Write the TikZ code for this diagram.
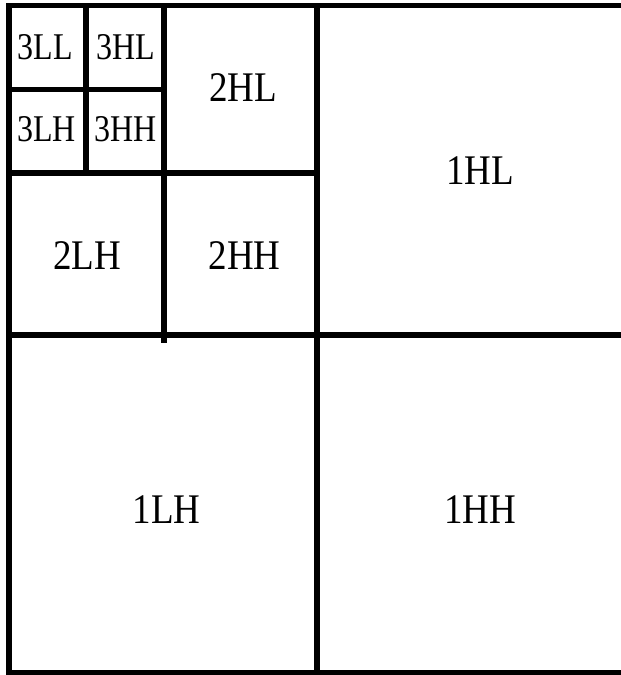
\documentclass[tikz,border=0pt]{standalone}
\usepackage{fontspec}
\usepackage{graphicx}
\setmainfont{Liberation Serif}
\usetikzlibrary{positioning}

\newcommand{\tall}[2]{\scalebox{1}[#1]{#2}}

\begin{document}
\begin{tikzpicture}[
  x=1pt, y=-1pt,
  grid/.style={line width=5.5pt, line cap=rect},
  band/.style={font=\fontsize{37}{40}\selectfont, inner sep=0pt},
  subband/.style={font=\fontsize{32}{34}\selectfont, inner sep=0pt},
]
  \useasboundingbox (0,0) rectangle (621,675);
  \clip (0,0) rectangle (621,675);

  % outer frame and first level
  \draw[grid] (9,5.5) -- (640,5.5);
  \draw[grid] (9,5.5) -- (9,672.5) -- (640,672.5);
  \draw[grid] (317,5.5) -- (317,672.5);
  \draw[grid] (9,335) -- (640,335);

  % second level
  \draw[grid] (9,173) -- (317,173);
  \draw[grid] (164,5.5) -- (164,340);

  % third level
  \draw[grid] (86,5.5) -- (86,173);
  \draw[grid] (9,89.5) -- (164,89.5);

  \node[subband] (ll3) at (45.5,47.5) {\tall{1.18}{3LL}};
  \node[subband] (hl3) at (126,47.5) {\tall{1.18}{3HL}};
  \node[subband] (lh3) at (46.5,129.5) {\tall{1.18}{3LH}};
  \node[subband] (hh3) at (126,129.5) {\tall{1.18}{3HH}};

  \node[band] (hl2) at (243,87.5) {\tall{1.14}{2HL}};
  \node[band] (lh2) at (87,256) {\tall{1.14}{2LH}};
  \node[band] (hh2) at (244.5,256) {\tall{1.14}{2HH}};

  \node[band] (hl1) at (480,171) {\tall{1.14}{1HL}};
  \node[band] (lh1) at (166.5,510) {\tall{1.14}{1LH}};
  \node[band] (hh1) at (480,510) {\tall{1.14}{1HH}};
\end{tikzpicture}
\end{document}
